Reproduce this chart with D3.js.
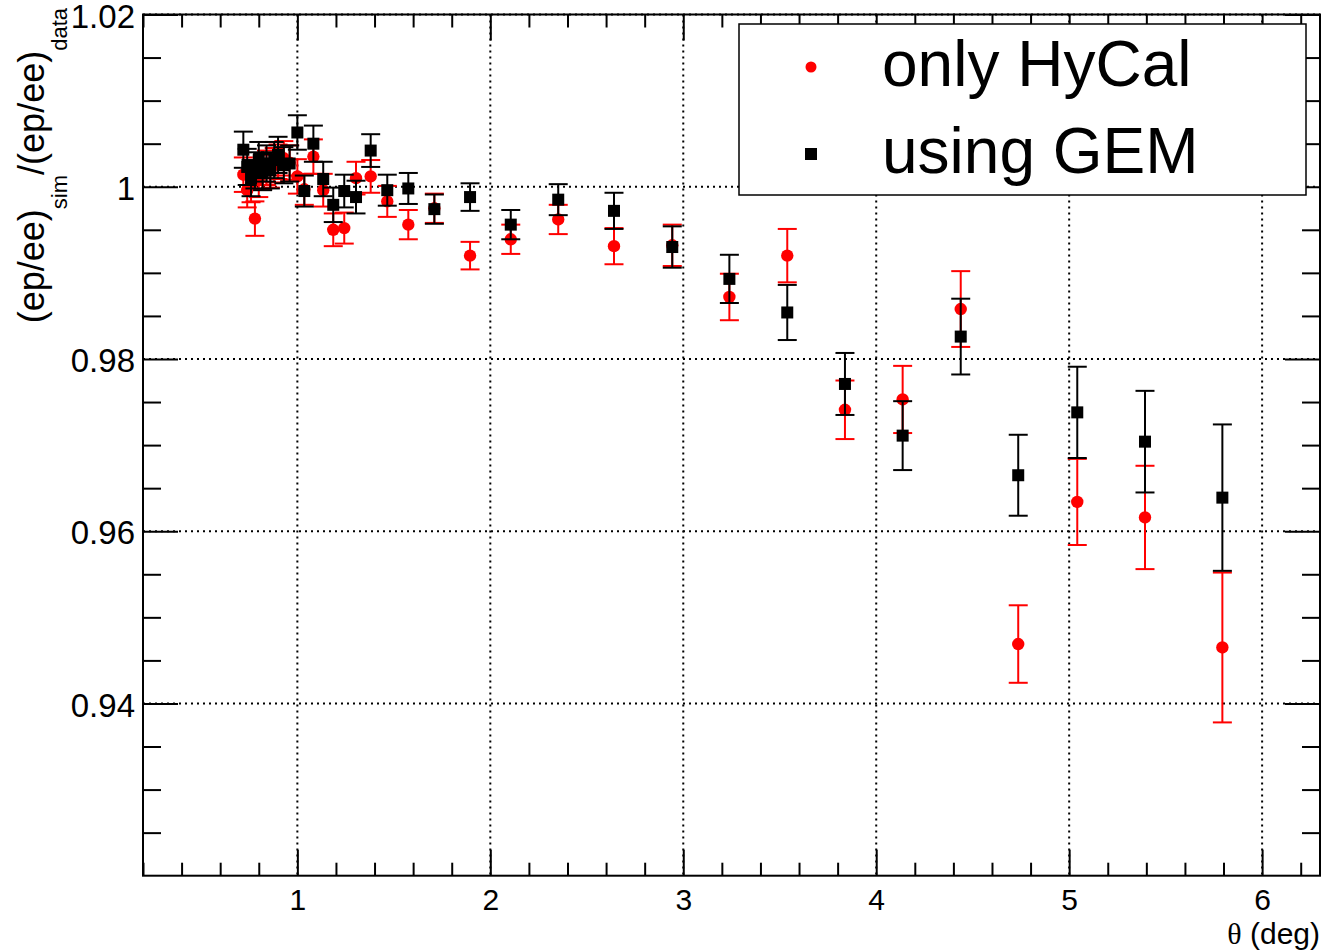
<!DOCTYPE html>
<meta charset="utf-8">
<script src="https://d3js.org/d3.v7.min.js"></script>
<style>
  body { margin: 0; background: #fff; }
  text { font-family: "Liberation Sans", Arial, Helvetica, sans-serif; }
</style>
<div id="chart"></div>
<script>

// theta bins (deg), shared by both series
const theta = [0.72, 0.74, 0.76, 0.78, 0.80, 0.82, 0.84, 0.86, 0.88, 0.90, 0.93, 0.96,
  1.00, 1.036, 1.083, 1.134, 1.186, 1.243, 1.304, 1.380, 1.466, 1.575,
  1.710, 1.895, 2.106, 2.352, 2.641, 2.943, 3.239, 3.539, 3.838, 4.137,
  4.438, 4.736, 5.042, 5.393, 5.794];

// only HyCal (red)
const hycalVal = [1.0014, 0.9996, 1.0002, 0.9963, 1.0008, 1.0017, 1.0022, 1.0019, 1.0025, 1.0029, 1.0033, 1.0028,
  1.0012, 0.9997, 1.0035, 0.9996, 0.9950, 0.9952, 1.0010, 1.0012, 0.9983, 0.9956,
  0.9975, 0.9920, 0.9939, 0.9962, 0.9931, 0.9932, 0.9872, 0.9920, 0.9741, 0.9753,
  0.9858, 0.9469, 0.9634, 0.9616, 0.9465];
const hycalErr = [0.0020, 0.0020, 0.0020, 0.0020, 0.0020, 0.0020, 0.0020, 0.0020, 0.0020, 0.0020, 0.0020, 0.0020,
  0.0020, 0.0018, 0.0020, 0.0019, 0.0019, 0.0018, 0.0019, 0.0019, 0.0018, 0.0017,
  0.0017, 0.0016, 0.0017, 0.0017, 0.0021, 0.0024, 0.0027, 0.0031, 0.0034, 0.0039,
  0.0044, 0.0045, 0.0050, 0.0060, 0.0087];

// using GEM (black)
const gemVal = [1.0043, 1.0023, 1.0010, 1.0019, 1.0031, 1.0017, 1.0027, 1.0019, 1.0031, 1.0037, 1.0025, 1.0027,
  1.0063, 0.9995, 1.0050, 1.0009, 0.9979, 0.9995, 0.9988, 1.0042, 0.9996, 0.9998,
  0.9974, 0.9988, 0.9956, 0.9985, 0.9972, 0.9930, 0.9893, 0.9854, 0.9771, 0.9711,
  0.9826, 0.9665, 0.9738, 0.9704, 0.9639];
const gemErr = [0.0021, 0.0021, 0.0021, 0.0021, 0.0021, 0.0021, 0.0021, 0.0021, 0.0021, 0.0021, 0.0021, 0.0021,
  0.0020, 0.0018, 0.0021, 0.0020, 0.0020, 0.0019, 0.0019, 0.0019, 0.0018, 0.0018,
  0.0017, 0.0016, 0.0017, 0.0018, 0.0021, 0.0024, 0.0028, 0.0032, 0.0036, 0.0040,
  0.0044, 0.0047, 0.0053, 0.0059, 0.0085];

const xTicks = [1, 2, 3, 4, 5, 6];
const xTickLabels = ["1", "2", "3", "4", "5", "6"];
const yTicks = [0.94, 0.96, 0.98, 1.00, 1.02];
const yTickLabels = ["0.94", "0.96", "0.98", "1", "1.02"];

const seriesNames = ["only HyCal", "using GEM"];

// frame
const margin = {top: 14.5, right: 20, bottom: 75.3, left: 143},
    W = 1340, H = 951,
    width = W - margin.left - margin.right,
    height = H - margin.top - margin.bottom;

const svg = d3.select("#chart")
  .append("svg")
    .attr("width", W)
    .attr("height", H)
  .append("g")
    .attr("transform", `translate(${margin.left}, ${margin.top})`);

const x = d3.scaleLinear().domain([0.2, 6.3]).range([0, width]);
const y = d3.scaleLinear().domain([0.92, 1.02]).range([height, 0]);

// dotted grid
svg.append("g").selectAll("line")
  .data(xTicks)
  .join("line")
    .attr("x1", d => x(d)).attr("x2", d => x(d))
    .attr("y1", 0).attr("y2", height)
    .attr("stroke", "#000").attr("stroke-width", 2)
    .attr("stroke-dasharray", "2,4");
svg.append("g").selectAll("line")
  .data(yTicks)
  .join("line")
    .attr("x1", 0).attr("x2", width)
    .attr("y1", d => y(d)).attr("y2", d => y(d))
    .attr("stroke", "#000").attr("stroke-width", 2)
    .attr("stroke-dasharray", "2,4");

// ticks on all four sides (ROOT style, pointing inwards)
const xMinor = d3.range(0.2, 6.31, 0.2).filter(v => Math.abs(v - Math.round(v)) > 1e-6);
const yMinor = d3.range(0.92, 1.0201, 0.005).filter(v => Math.abs(v * 50 - Math.round(v * 50)) > 1e-6);

function styleAxis(g) {
  g.select(".domain").remove();
  g.selectAll(".tick line").attr("stroke", "#000").attr("stroke-width", 2);
}

svg.append("g")
  .attr("transform", `translate(0, ${height})`)
  .call(d3.axisBottom(x).tickValues(xTicks).tickFormat((d, i) => xTickLabels[i])
    .tickSizeInner(-26).tickSizeOuter(0).tickPadding(13))
  .call(styleAxis)
  .call(g => g.selectAll("text").attr("font-size", 30).attr("fill", "#000"));
svg.append("g")
  .attr("transform", `translate(0, ${height})`)
  .call(d3.axisBottom(x).tickValues(xMinor).tickFormat("").tickSizeInner(-13).tickSizeOuter(0))
  .call(styleAxis);
svg.append("g")
  .call(d3.axisTop(x).tickValues(xTicks).tickFormat("").tickSizeInner(-26).tickSizeOuter(0))
  .call(styleAxis);
svg.append("g")
  .call(d3.axisTop(x).tickValues(xMinor).tickFormat("").tickSizeInner(-13).tickSizeOuter(0))
  .call(styleAxis);

svg.append("g")
  .call(d3.axisLeft(y).tickValues(yTicks).tickFormat((d, i) => yTickLabels[i])
    .tickSizeInner(-35).tickSizeOuter(0).tickPadding(8))
  .call(styleAxis)
  .call(g => g.selectAll("text").attr("font-size", 33).attr("dy", "0.38em").attr("fill", "#000"));
svg.append("g")
  .call(d3.axisLeft(y).tickValues(yMinor).tickFormat("").tickSizeInner(-18).tickSizeOuter(0))
  .call(styleAxis);
svg.append("g")
  .attr("transform", `translate(${width}, 0)`)
  .call(d3.axisRight(y).tickValues(yTicks).tickFormat("").tickSizeInner(-35).tickSizeOuter(0))
  .call(styleAxis);
svg.append("g")
  .attr("transform", `translate(${width}, 0)`)
  .call(d3.axisRight(y).tickValues(yMinor).tickFormat("").tickSizeInner(-18).tickSizeOuter(0))
  .call(styleAxis);

// frame
svg.append("rect")
  .attr("width", width).attr("height", height)
  .attr("fill", "none").attr("stroke", "#000").attr("stroke-width", 2);

// axis titles
const xTitle = svg.append("text")
  .attr("x", width).attr("y", height + 68.5)
  .attr("text-anchor", "end")
  .attr("font-size", 30);
xTitle.append("tspan").attr("font-family", "'Liberation Serif', 'DejaVu Serif', serif").text("\u03b8");
xTitle.append("tspan").text(" (deg)");

const yTitle = svg.append("text")
  .attr("transform", `translate(${44 - margin.left}, ${8 - margin.top}) rotate(-90)`)
  .attr("text-anchor", "end")
  .attr("font-size", 36);
yTitle.append("tspan").text("(ep/ee)");
yTitle.append("tspan").attr("dy", 23).attr("font-size", 22).text("sim");
yTitle.append("tspan").attr("dy", -23).text("/(ep/ee)");
yTitle.append("tspan").attr("dy", 23).attr("font-size", 22).text("data");

// data points
const hycal = theta.map((t, i) => ({t: t, v: hycalVal[i], e: hycalErr[i]}));
const gem = theta.map((t, i) => ({t: t, v: gemVal[i], e: gemErr[i]}));
const cap = 9.5;

function drawSeries(data, color, square) {
  const g = svg.append("g");
  const bars = g.selectAll(".err")
    .data(data)
    .join("g")
      .attr("class", "err")
      .attr("stroke", color)
      .attr("stroke-width", 2);
  bars.append("line")
    .attr("x1", d => x(d.t)).attr("x2", d => x(d.t))
    .attr("y1", d => y(d.v - d.e)).attr("y2", d => y(d.v + d.e));
  bars.append("line")
    .attr("x1", d => x(d.t) - cap).attr("x2", d => x(d.t) + cap)
    .attr("y1", d => y(d.v + d.e)).attr("y2", d => y(d.v + d.e));
  bars.append("line")
    .attr("x1", d => x(d.t) - cap).attr("x2", d => x(d.t) + cap)
    .attr("y1", d => y(d.v - d.e)).attr("y2", d => y(d.v - d.e));

  if (square) {
    g.selectAll(".mk").data(data).join("rect")
      .attr("class", "mk")
      .attr("x", d => x(d.t) - 6).attr("y", d => y(d.v) - 6)
      .attr("width", 12).attr("height", 12)
      .attr("fill", color);
  } else {
    g.selectAll(".mk").data(data).join("circle")
      .attr("class", "mk")
      .attr("cx", d => x(d.t)).attr("cy", d => y(d.v))
      .attr("r", 6.2)
      .attr("fill", color);
  }
}

drawSeries(hycal, "#ff0000", false);
drawSeries(gem, "#000000", true);

// legend
const lg = svg.append("g")
  .attr("transform", `translate(${739 - margin.left}, ${24 - margin.top})`);
lg.append("rect")
  .attr("width", 567).attr("height", 171)
  .attr("fill", "#fff").attr("stroke", "#000").attr("stroke-width", 1.5);
lg.append("circle").attr("cx", 72).attr("cy", 43).attr("r", 5.5).attr("fill", "#ff0000");
lg.append("rect").attr("x", 66).attr("y", 124).attr("width", 12).attr("height", 12).attr("fill", "#000");
lg.append("text").attr("x", 143).attr("y", 62).attr("font-size", 64).text(seriesNames[0]);
lg.append("text").attr("x", 143).attr("y", 149).attr("font-size", 64).text(seriesNames[1]);

</script>
